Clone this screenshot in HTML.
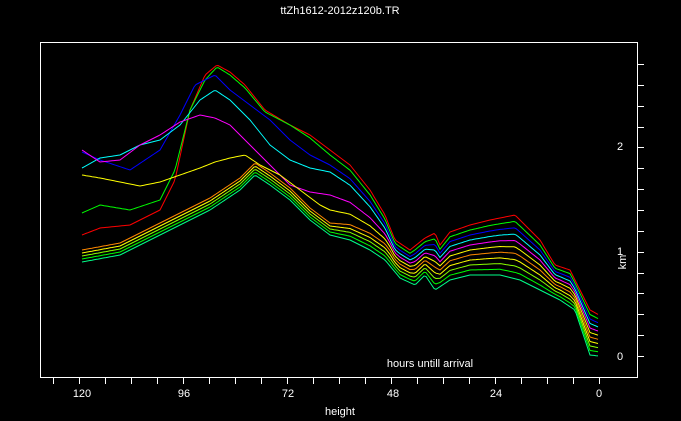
<!DOCTYPE html>
<html><head><style>
html,body{margin:0;padding:0;background:#000;width:681px;height:421px;overflow:hidden}
svg{display:block}
text{font-family:"Liberation Sans",sans-serif;font-size:11px;fill:#fff}
</style></head><body>
<svg id="s" width="681" height="421" xmlns="http://www.w3.org/2000/svg">
<text x="340" y="14" text-anchor="middle">ttZh1612-2012z120b.TR</text>
<rect x="40.5" y="42.5" width="597" height="335" fill="none" stroke="#fff"/>
<g id="ticks" stroke="#fff"></g>
<text x="82" y="397" text-anchor="middle">120</text>
<text x="184" y="397" text-anchor="middle">96</text>
<text x="288" y="397" text-anchor="middle">72</text>
<text x="393" y="397" text-anchor="middle">48</text>
<text x="496" y="397" text-anchor="middle">24</text>
<text x="599" y="397" text-anchor="middle">0</text>
<text x="340" y="415" text-anchor="middle">height</text>
<text x="430" y="367" text-anchor="middle">hours untill arrival</text>
<text x="617" y="360">0</text>
<text x="617" y="255">1</text>
<text x="617" y="150">2</text>
<text transform="translate(626,262) rotate(-90)" text-anchor="middle">km</text>
<g id="c" fill="none" stroke-width="1"></g>
</svg>
<script>
(function(){
var tk=document.getElementById('ticks'),h='';
for(var x=599;x>45;x-=26){h+='<line x1="'+(x+.5)+'" y1="378" x2="'+(x+.5)+'" y2="384"/>';}
for(var y=356;y>45;y-=20.86){var yy=Math.round(y)+.5;h+='<line x1="638" y1="'+yy+'" x2="644" y2="'+yy+'"/>';}
tk.innerHTML=h;
var topP=[[330,150],[350,165],[370,190],[385,215],[395,240],[410,250],[425,238],[435,233],[440,245],[450,232],[470,225],[490,220],[515,215],[525,225],[540,240],[555,265],[570,270],[580,290],[590,310],[599,315]];
var bot=[[82,262],[120,255],[150,240],[180,225],[210,210],[240,190],[255,175],[270,185],[290,200],[310,220],[330,235],[350,240],[370,250],[385,260],[400,278],[415,285],[425,275],[435,290],[450,280],[470,275],[500,275],[520,280],[540,290],[560,300],[575,310],[585,340],[590,355],[599,356]];
function f(p,x){for(var i=0;i<p.length-1;i++){if(x>=p[i][0]&&x<=p[i+1][0]){var t=(x-p[i][0])/(p[i+1][0]-p[i][0]);return p[i][1]+t*(p[i+1][1]-p[i][1]);}}return p[p.length-1][1];}
var C=[
['#f00',1,[[82,235],[100,228],[130,225],[160,210],[175,180],[190,110],[205,75],[217,65],[230,72],[245,85],[265,110],[290,125],[310,135],[330,150]]],
['#0f0',.9,[[82,213],[100,205],[130,210],[160,200],[175,170],[190,110],[205,80],[217,67],[230,75],[245,88],[265,112],[290,125],[310,138],[330,155]]],
['#00f',.8,[[82,152],[100,160],[130,170],[160,150],[180,115],[195,85],[215,75],[230,90],[250,105],[270,120],[290,140],[310,155],[330,165]]],
['#0ff',.7,[[82,168],[100,158],[120,155],[140,145],[160,140],[180,125],[200,100],[215,90],[230,100],[250,120],[270,145],[290,160],[310,168],[330,172]]],
['#f0f',.6,[[82,150],[100,162],[120,160],[140,145],[160,135],[180,122],[200,115],[215,118],[230,125],[250,145],[270,165],[290,185],[310,192],[330,195]]],
['#ff0',.5,[[82,175],[100,178],[120,182],[140,186],[160,182],[180,175],[200,168],[215,162],[230,158],[245,155],[260,165],[280,175],[300,190],[320,205],[330,210]]],
['#f80',.4,null,-12],['#ff0',.3,null,-9],['#8f0',.2,null,-6],['#0f0',.1,null,-3],['#0f8',0,null,0]];
function R(k,x){var b=f(bot,x),t=f(topP,x);return b+k*(t-b);}
var g=document.getElementById('c'),s='';
C.forEach(function(c){var L=function(x){return c[2]?f(c[2],x):f(bot,x)+c[3];};
 var d=L(330)-R(c[1],330);var pts=[];
 for(var x=82;x<=599;x+=2){var y;
 if(x<330)y=L(x);else{y=R(c[1],x)+d*Math.max(0,1-(x-330)/60);}
 pts.push(x+','+y.toFixed(1));}
 s+='<polyline stroke="'+c[0]+'" points="'+pts.join(' ')+'"/>';});
g.innerHTML=s;
})();
</script>
</body></html>
